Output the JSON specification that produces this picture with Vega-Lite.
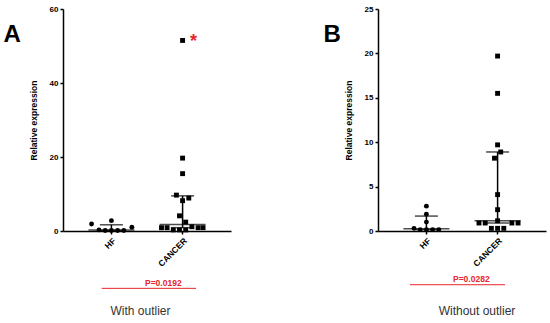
{
  "$schema": "https://vega.github.io/schema/vega-lite/v6.json",
  "background": "white",
  "padding": {"left": 3, "top": 5, "right": 5, "bottom": 5},
  "bounds": "flush",
  "spacing": 147,
  "config": {
    "view": {"stroke": null},
    "font": "Liberation Sans",
    "axis": {
      "domainColor": "black", "domainWidth": 1.5, "tickColor": "black", "tickWidth": 1.5, "tickSize": 3,
      "labelColor": "black", "labelFont": "Liberation Sans", "labelFontWeight": "bold", "labelFontSize": 8,
      "titleFont": "Liberation Sans", "titleFontWeight": "bold", "titleFontSize": 8.5, "titleColor": "black", "grid": false
    },
    "axisX": {"labelFontSize": 8.5}
  },
  "datasets": {
    "ptsA": [
      {"group": "HF", "value": 2.8, "slot": 0},
      {"group": "HF", "value": 1.9, "slot": -3.2},
      {"group": "HF", "value": 1.0, "slot": 3.3},
      {"group": "HF", "value": 0.3, "slot": -2},
      {"group": "HF", "value": 0.15, "slot": -1},
      {"group": "HF", "value": 0.15, "slot": 0},
      {"group": "HF", "value": 0.15, "slot": 1},
      {"group": "HF", "value": 0.15, "slot": 2},
      {"group": "CANCER", "value": 51.5, "slot": 0},
      {"group": "CANCER", "value": 19.7, "slot": 0},
      {"group": "CANCER", "value": 15.5, "slot": 0},
      {"group": "CANCER", "value": 9.7, "slot": -1},
      {"group": "CANCER", "value": 8.9, "slot": 1},
      {"group": "CANCER", "value": 8.2, "slot": 0},
      {"group": "CANCER", "value": 4.1, "slot": -0.5},
      {"group": "CANCER", "value": 2.4, "slot": 0.5},
      {"group": "CANCER", "value": 1.15, "slot": 1.5},
      {"group": "CANCER", "value": 0.9, "slot": -3.4},
      {"group": "CANCER", "value": 0.9, "slot": -2.5},
      {"group": "CANCER", "value": 0.9, "slot": 2.5},
      {"group": "CANCER", "value": 0.9, "slot": 3.3},
      {"group": "CANCER", "value": 0.3, "slot": -1.5},
      {"group": "CANCER", "value": 0.3, "slot": -0.5},
      {"group": "CANCER", "value": 0.3, "slot": 0.5}
    ],
    "ptsB": [
      {"group": "HF", "value": 2.8, "slot": 0},
      {"group": "HF", "value": 1.9, "slot": 0},
      {"group": "HF", "value": 1.0, "slot": 0},
      {"group": "HF", "value": 0.3, "slot": -2},
      {"group": "HF", "value": 0.15, "slot": -1},
      {"group": "HF", "value": 0.15, "slot": 0},
      {"group": "HF", "value": 0.15, "slot": 1},
      {"group": "HF", "value": 0.15, "slot": 2},
      {"group": "CANCER", "value": 19.7, "slot": 0},
      {"group": "CANCER", "value": 15.5, "slot": 0},
      {"group": "CANCER", "value": 9.7, "slot": 0},
      {"group": "CANCER", "value": 8.9, "slot": 0.5},
      {"group": "CANCER", "value": 8.2, "slot": -0.5},
      {"group": "CANCER", "value": 4.1, "slot": 0},
      {"group": "CANCER", "value": 2.4, "slot": 0},
      {"group": "CANCER", "value": 1.15, "slot": 0},
      {"group": "CANCER", "value": 0.9, "slot": -3},
      {"group": "CANCER", "value": 0.9, "slot": -2},
      {"group": "CANCER", "value": 0.9, "slot": 2.3},
      {"group": "CANCER", "value": 0.9, "slot": 3.3},
      {"group": "CANCER", "value": 0.3, "slot": -1},
      {"group": "CANCER", "value": 0.3, "slot": 0},
      {"group": "CANCER", "value": 0.3, "slot": 1}
    ],
    "statsA": [
      {"group": "HF", "median": 0.25, "q1": 0.15, "q3": 1.68},
      {"group": "CANCER", "median": 1.78, "q1": 0.9, "q3": 9.5}
    ],
    "statsB": [
      {"group": "HF", "median": 0.25, "q1": 0.15, "q3": 1.68},
      {"group": "CANCER", "median": 1.15, "q1": 0.9, "q3": 8.9}
    ],
    "testA": [{"from": "HF", "to": "CANCER", "p": "P=0.0192"}],
    "testB": [{"from": "HF", "to": "CANCER", "p": "P=0.0282"}]
  },
  "hconcat": [
    {
      "width": 168,
      "height": 222,
      "title": {"text": "A", "orient": "left", "anchor": "end", "angle": 0, "align": "right", "baseline": "top", "dy": 18, "offset": -9, "fontSize": 24, "fontWeight": "bold", "color": "black", "font": "Liberation Sans"},
      "layer": [
        {
          "data": {"name": "statsA"},
          "mark": {"type": "rule", "color": "black", "strokeWidth": 1.5},
          "encoding": {
            "x": {"field": "group", "type": "nominal", "scale": {"domain": ["HF", "CANCER"], "paddingInner": 0, "paddingOuter": 0.18},
              "axis": {"title": "With outlier", "labelAngle": -45, "titleFont": "Liberation Sans", "titleFontWeight": "normal", "titleFontSize": 12, "titleColor": "#333333", "titleX": 77, "titleY": 74, "titleBaseline": "top"}},
            "y": {"field": "q1", "type": "quantitative", "title": "Relative expression", "scale": {"domain": [0, 60], "nice": false}, "axis": {"values": [0, 20, 40, 60], "titlePadding": 11}},
            "y2": {"field": "q3"}
          }
        },
        {
          "data": {"name": "statsA"},
          "mark": {"type": "tick", "orient": "horizontal", "size": 46, "thickness": 1.5, "color": "black"},
          "encoding": {
            "x": {"field": "group", "type": "nominal", "title": "With outlier"},
            "y": {"field": "median", "type": "quantitative", "title": "Relative expression"}
          }
        },
        {
          "data": {"name": "statsA"},
          "mark": {"type": "tick", "orient": "horizontal", "size": 23, "thickness": 1.5, "color": "black"},
          "encoding": {
            "x": {"field": "group", "type": "nominal", "title": "With outlier"},
            "y": {"field": "q3", "type": "quantitative", "title": "Relative expression"}
          }
        },
        {
          "data": {"name": "statsA"},
          "mark": {"type": "tick", "orient": "horizontal", "size": 23, "thickness": 1.5, "color": "black"},
          "encoding": {
            "x": {"field": "group", "type": "nominal", "title": "With outlier"},
            "y": {"field": "q1", "type": "quantitative", "title": "Relative expression"}
          }
        },
        {
          "data": {"name": "ptsA"},
          "mark": {"type": "point", "filled": true, "opacity": 1, "size": 24, "color": "black"},
          "encoding": {
            "x": {"field": "group", "type": "nominal", "title": "With outlier"},
            "xOffset": {"field": "slot", "type": "quantitative", "scale": {"domain": [-5.74, 5.74]}},
            "y": {"field": "value", "type": "quantitative", "title": "Relative expression"},
            "shape": {"field": "group", "type": "nominal", "scale": {"domain": ["HF", "CANCER"], "range": ["circle", "square"]}, "legend": null}
          }
        },
        {
          "data": {"name": "ptsA"},
          "transform": [{"filter": "datum.value > 40"}],
          "mark": {"type": "text", "text": "*", "color": "#e8262b", "fontSize": 18, "fontWeight": "bold", "dx": 11, "dy": 2, "baseline": "middle"},
          "encoding": {
            "x": {"field": "group", "type": "nominal", "title": "With outlier"},
            "y": {"field": "value", "type": "quantitative", "title": "Relative expression"}
          }
        },
        {
          "data": {"name": "testA"},
          "mark": {"type": "text", "color": "#e8262b", "fontSize": 8.5, "fontWeight": "bold", "dx": -19.3, "baseline": "alphabetic"},
          "encoding": {
            "x": {"field": "to", "type": "nominal", "title": "With outlier"},
            "y": {"datum": -14.8, "type": "quantitative"},
            "text": {"field": "p"}
          }
        },
        {
          "data": {"name": "testA"},
          "mark": {"type": "rule", "color": "#e8262b", "strokeWidth": 1, "xOffset": -9.7, "x2Offset": 13.4},
          "encoding": {
            "x": {"field": "from", "type": "nominal", "title": "With outlier"},
            "x2": {"field": "to"},
            "y": {"datum": -15.5, "type": "quantitative"}
          }
        }
      ]
    },
    {
      "width": 168,
      "height": 222,
      "title": {"text": "B", "orient": "left", "anchor": "end", "angle": 0, "align": "right", "baseline": "top", "dy": 18, "offset": -14, "fontSize": 24, "fontWeight": "bold", "color": "black", "font": "Liberation Sans"},
      "layer": [
        {
          "data": {"name": "statsB"},
          "mark": {"type": "rule", "color": "black", "strokeWidth": 1.5},
          "encoding": {
            "x": {"field": "group", "type": "nominal", "scale": {"domain": ["HF", "CANCER"], "paddingInner": 0, "paddingOuter": 0.18},
              "axis": {"title": "Without outlier", "labelAngle": -45, "titleFont": "Liberation Sans", "titleFontWeight": "normal", "titleFontSize": 12, "titleColor": "#333333", "titleX": 98.5, "titleY": 74, "titleBaseline": "top"}},
            "y": {"field": "q1", "type": "quantitative", "title": "Relative expression", "scale": {"domain": [0, 25], "nice": false}, "axis": {"values": [0, 5, 10, 15, 20, 25], "titlePadding": 11}},
            "y2": {"field": "q3"}
          }
        },
        {
          "data": {"name": "statsB"},
          "mark": {"type": "tick", "orient": "horizontal", "size": 46, "thickness": 1.5, "color": "black"},
          "encoding": {
            "x": {"field": "group", "type": "nominal", "title": "Without outlier"},
            "y": {"field": "median", "type": "quantitative", "title": "Relative expression"}
          }
        },
        {
          "data": {"name": "statsB"},
          "mark": {"type": "tick", "orient": "horizontal", "size": 23, "thickness": 1.5, "color": "black"},
          "encoding": {
            "x": {"field": "group", "type": "nominal", "title": "Without outlier"},
            "y": {"field": "q3", "type": "quantitative", "title": "Relative expression"}
          }
        },
        {
          "data": {"name": "statsB"},
          "mark": {"type": "tick", "orient": "horizontal", "size": 23, "thickness": 1.5, "color": "black"},
          "encoding": {
            "x": {"field": "group", "type": "nominal", "title": "Without outlier"},
            "y": {"field": "q1", "type": "quantitative", "title": "Relative expression"}
          }
        },
        {
          "data": {"name": "ptsB"},
          "mark": {"type": "point", "filled": true, "opacity": 1, "size": 24, "color": "black"},
          "encoding": {
            "x": {"field": "group", "type": "nominal", "title": "Without outlier"},
            "xOffset": {"field": "slot", "type": "quantitative", "scale": {"domain": [-5.16, 5.16]}},
            "y": {"field": "value", "type": "quantitative", "title": "Relative expression"},
            "shape": {"field": "group", "type": "nominal", "scale": {"domain": ["HF", "CANCER"], "range": ["circle", "square"]}, "legend": null}
          }
        },
        {
          "data": {"name": "testB"},
          "mark": {"type": "text", "color": "#e8262b", "fontSize": 8.5, "fontWeight": "bold", "dx": -26.3, "baseline": "alphabetic"},
          "encoding": {
            "x": {"field": "to", "type": "nominal", "title": "Without outlier"},
            "y": {"datum": -5.78, "type": "quantitative"},
            "text": {"field": "p"}
          }
        },
        {
          "data": {"name": "testB"},
          "mark": {"type": "rule", "color": "#e8262b", "strokeWidth": 1, "xOffset": -16.4, "x2Offset": 7.4},
          "encoding": {
            "x": {"field": "from", "type": "nominal", "title": "Without outlier"},
            "x2": {"field": "to"},
            "y": {"datum": -6.05, "type": "quantitative"}
          }
        }
      ]
    }
  ]
}
